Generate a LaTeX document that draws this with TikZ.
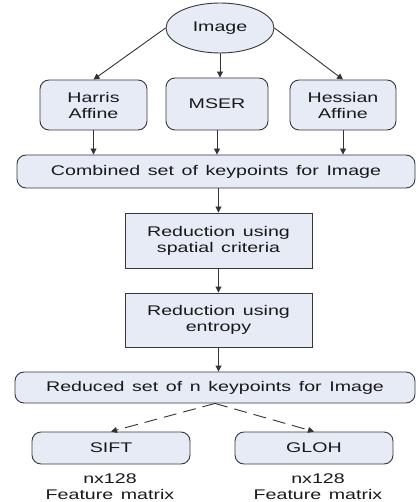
\documentclass[tikz,border=0pt]{standalone}
\usepackage{fontspec}
\setmainfont{Liberation Sans}[FakeStretch=1.4, WordSpace=1.4]
\usetikzlibrary{shapes.geometric,arrows.meta}
\definecolor{boxfill}{RGB}{230,235,246}
\definecolor{boxline}{RGB}{55,55,55}
\begin{document}
\begin{tikzpicture}[x=1pt,y=-1pt,
  every node/.style={font=\fontsize{14}{16}\selectfont, text=black!90, align=center, inner sep=0pt},
  base/.style={draw=boxline, fill=boxfill, line width=0.9pt},
  ellbox/.style={base, ellipse},
  rbox/.style={base, rounded corners=9pt},
  sbox/.style={base},
  arr/.style={draw=black!80, line width=0.9pt, -{Triangle[length=6pt,width=6pt]}},
  darr/.style={arr, dash pattern=on 13pt off 7pt},
  lbl/.style={text=black!90}
]
\useasboundingbox (0,0) rectangle (417,502);
\node[ellbox, minimum width=108pt, minimum height=50pt] (img) at (220,28) {Image};
\node[rbox, minimum width=107pt, minimum height=50pt] (harris) at (93.5,105) {Harris\\Affine};
\node[rbox, minimum width=102pt, minimum height=52pt] (mser) at (217,104) {MSER};
\node[rbox, minimum width=106pt, minimum height=50pt] (hessian) at (343,105) {Hessian\\Affine};
\node[rbox, minimum width=398pt, minimum height=33pt] (comb) at (216,171.5) {Combined set of keypoints for Image};
\node[sbox, minimum width=187pt, minimum height=55pt] (spatial) at (218.5,240.5) {Reduction using\\spatial criteria};
\node[sbox, minimum width=187pt, minimum height=54pt] (entropy) at (218.5,320) {Reduction using\\entropy};
\node[rbox, minimum width=400pt, minimum height=31pt] (reduced) at (215,387.5) {Reduced set of n keypoints for Image};
\node[rbox, minimum width=158pt, minimum height=32pt] (sift) at (111,448) {SIFT};
\node[rbox, minimum width=158pt, minimum height=32pt] (gloh) at (314,448) {GLOH};
\node[lbl] (siftl) at (110,487) {nx128\\Feature matrix};
\node[lbl] (glohl) at (318,487) {nx128\\Feature matrix};

\draw[arr] (img.west) -- (harris.north);
\draw[arr] (img.south) -- (img.south |- mser.north);
\draw[arr] (img.east) -- (hessian.north);
\draw[arr] (harris.south) -- (harris.south |- comb.north);
\draw[arr] (mser.south) -- (mser.south |- comb.north);
\draw[arr] (hessian.south) -- (hessian.south |- comb.north);
\draw[arr] (spatial.north |- comb.south) -- (spatial.north);
\draw[arr] (spatial.south) -- (entropy.north);
\draw[arr] (entropy.south) -- (entropy.south |- reduced.north);
\draw[darr] (reduced.south) -- (sift.north);
\draw[darr] (reduced.south) -- (gloh.north);
\end{tikzpicture}
\end{document}
